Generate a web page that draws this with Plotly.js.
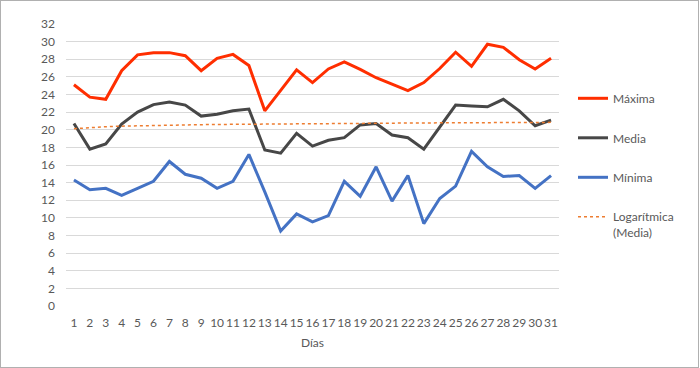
<!DOCTYPE html>
<html>
<head>
<meta charset="utf-8">
<script src="https://cdn.plot.ly/plotly-3.0.1.min.js"></script>
<style>
html,body{margin:0;padding:0;background:#fff;}
#wrap{position:absolute;left:0;top:0;width:697px;height:366px;border:1px solid #b0b0b0;overflow:hidden;}
#chart{position:absolute;left:-1px;top:-1px;width:700px;height:368px;}
</style>
</head>
<body>
<div id="wrap"><div id="chart"></div></div>
<script>
const dias = [1,2,3,4,5,6,7,8,9,10,11,12,13,14,15,16,17,18,19,20,21,22,23,24,25,26,27,28,29,30,31];
const maxima = [25.1,23.7,23.45,26.7,28.5,28.75,28.75,28.4,26.7,28.1,28.55,27.3,22.15,24.5,26.8,25.35,26.9,27.7,26.85,25.9,25.15,24.45,25.35,26.95,28.8,27.2,29.7,29.35,27.95,26.9,28.1];
const media = [20.7,17.8,18.4,20.65,22.0,22.85,23.15,22.8,21.55,21.75,22.15,22.35,17.7,17.35,19.6,18.15,18.8,19.1,20.55,20.7,19.4,19.1,17.8,20.35,22.8,22.7,22.6,23.45,22.15,20.45,21.1];
const minima = [14.3,13.2,13.35,12.55,13.35,14.15,16.4,14.95,14.5,13.35,14.15,17.2,12.95,8.5,10.45,9.55,10.25,14.15,12.45,15.8,11.9,14.8,9.35,12.2,13.6,17.55,15.8,14.7,14.8,13.35,14.8];
const yTicks = [0,2,4,6,8,10,12,14,16,18,20,22,24,26,28,30,32];

// Logarithmic trendline (least squares fit of media on ln(dia)), as the chart's "Logarítmica (Media)"
const lx = dias.map(d => Math.log(d));
const n = dias.length;
const mx = lx.reduce((a,b)=>a+b,0)/n;
const my = media.reduce((a,b)=>a+b,0)/n;
let sxy = 0, sxx = 0;
for (let i=0;i<n;i++){ sxy += (lx[i]-mx)*(media[i]-my); sxx += (lx[i]-mx)*(lx[i]-mx); }
const slope = sxy/sxx, icpt = my - slope*mx;
const trend = lx.map(v => icpt + slope*v);

const font = {family:'Lato, "Liberation Sans", sans-serif', size:12, color:'#595959'};

const traces = [
  {x:dias, y:maxima, type:'scatter', mode:'lines', name:'Máxima', line:{color:'#FF2E00', width:3}, legendgroup:'a'},
  {x:dias, y:media, type:'scatter', mode:'lines', name:'Media', line:{color:'#474747', width:3}, legendgroup:'b'},
  {x:dias, y:minima, type:'scatter', mode:'lines', name:'Mínima', line:{color:'#4472C4', width:3}, legendgroup:'c'},
  {x:dias, y:trend, type:'scatter', mode:'lines', name:'Logarítmica<br>(Media)', line:{color:'#ED7D31', width:1.5, dash:'dot'}, legendgroup:'d'}
];

const layout = {
  width:700, height:368,
  margin:{l:66, r:141, t:24, b:62, pad:0},
  paper_bgcolor:'#fff', plot_bgcolor:'#fff',
  font:font,
  showlegend:true,
  legend:{x:573/700, xref:'container', y:1-84/368, yref:'container', xanchor:'left', yanchor:'top',
          traceorder:'grouped', tracegroupgap:20.5, valign:'top', font:{family:font.family, size:12, color:'#595959'},
          bgcolor:'rgba(0,0,0,0)'},
  xaxis:{range:[0.5,31.5], tickmode:'array', tickvals:dias, ticktext:dias.map(String), showgrid:false, zeroline:false,
         showline:false, ticks:'', tickangle:0, ticklabelstandoff:8, tickfont:{size:12, color:'#595959'},
         title:{text:'Días', font:{size:12, color:'#595959'}, standoff:9}},
  yaxis:{range:[0,32], tickmode:'array', tickvals:yTicks, showgrid:true, gridcolor:'#D9D9D9', gridwidth:1, zeroline:false,
         showline:false, ticks:'', ticklabelstandoff:10, tickfont:{size:12, color:'#595959'}},
  annotations:[{text:'Temp.', xref:'container', yref:'container', x:28/700, y:1-182/368, showarrow:false, textangle:-90,
                font:{size:12, color:'#595959'}, xanchor:'center', yanchor:'middle'}]
};

Plotly.newPlot('chart', traces, layout, {displayModeBar:false, staticPlot:true});
</script>
</body>
</html>
